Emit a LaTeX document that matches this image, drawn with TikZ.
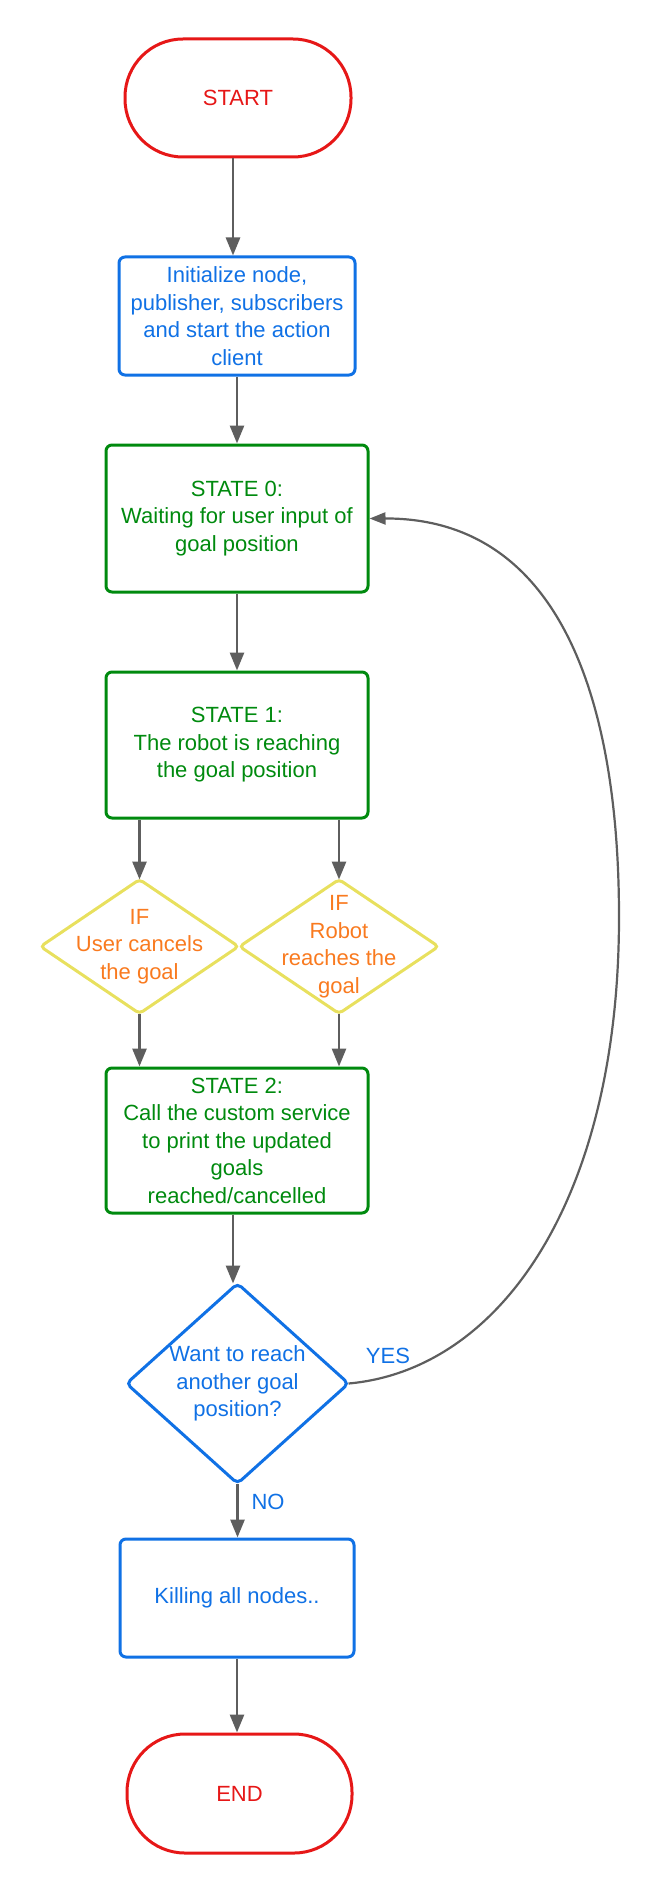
\documentclass[tikz,border=0pt]{standalone}
\usepackage{fontspec}
\setmainfont{Liberation Sans}
\usetikzlibrary{arrows.meta}
\definecolor{cred}{HTML}{E61717}
\definecolor{cblue}{HTML}{1071E5}
\definecolor{cgreen}{HTML}{008A0E}
\definecolor{cyellow}{HTML}{E8E05E}
\definecolor{corange}{HTML}{F97A1F}
\definecolor{cgray}{HTML}{5E5E5E}
\tikzset{
  base/.style={font=\fontsize{22}{27.5}\selectfont, align=center, line width=3pt, inner sep=0pt},
  term/.style={base, draw=cred, text=cred, rounded corners=58pt},
  bluebox/.style={base, draw=cblue, text=cblue, rounded corners=6pt},
  greenbox/.style={base, draw=cgreen, text=cgreen, rounded corners=6pt},
  cond/.style={base, text=corange},
  decide/.style={base, text=cblue},
  condline/.style={draw=cyellow, line width=3pt, rounded corners=4pt},
  decideline/.style={draw=cblue, line width=3pt, rounded corners=5pt},
  arr/.style={draw=cgray, line width=2.8pt, -{Triangle[length=18pt,width=14pt]}},
  looparr/.style={draw=cgray, line width=2.2pt, -{Triangle[length=16pt,width=12pt]}},
  lbl/.style={font=\fontsize{22}{27.5}\selectfont, text=cblue, inner sep=0pt}
}
\begin{document}
\begin{tikzpicture}[x=1pt,y=-1pt]
\useasboundingbox (0,0) rectangle (659,1894);
\node[term, minimum width=226pt, minimum height=118pt] (start) at (238,98) {START};
\node[bluebox, minimum width=236pt, minimum height=118pt] (init) at (237,316)
  {Initialize node,\\publisher, subscribers\\and start the action\\client};
\node[greenbox, minimum width=262pt, minimum height=147pt] (s0) at (237,518.5)
  {STATE 0:\\Waiting for user input of\\goal position};
\node[greenbox, minimum width=262pt, minimum height=146pt] (s1) at (237,745)
  {STATE 1:\\The robot is reaching\\the goal position};
\node[cond, minimum width=195pt, minimum height=131pt] (dL) at (139.5,946.5)
  {IF\\User cancels\\the goal};
\node[cond, minimum width=196pt, minimum height=131pt] (dR) at (339,946.5)
  {IF\\Robot\\reaches the\\goal};
\draw[condline] (dL.north) -- (dL.east) -- (dL.south) -- (dL.west) -- cycle;
\draw[condline] (dR.north) -- (dR.east) -- (dR.south) -- (dR.west) -- cycle;
\node[greenbox, minimum width=262pt, minimum height=145pt] (s2) at (237,1140.5)
  {STATE 2:\\Call the custom service\\to print the updated\\goals\\reached/cancelled};
\node[decide, minimum width=219pt, minimum height=197pt] (dec) at (237.5,1383.5)
  {Want to reach\\another goal\\position?};
\draw[decideline] (dec.north) -- (dec.east) -- (dec.south) -- (dec.west) -- cycle;
\node[bluebox, minimum width=234pt, minimum height=118pt] (kill) at (237,1598)
  {Killing all nodes..};
\node[term, minimum width=225pt, minimum height=119pt] (end) at (239.5,1793.5) {END};

\draw[arr] ([xshift=-5pt]start.south) -- ([xshift=-5pt]start.south |- init.north);
\draw[arr] (init.south) -- (init.south |- s0.north);
\draw[arr] (s0.south) -- (s1.north);
\draw[arr] (s1.south -| dL.north) -- (dL.north);
\draw[arr] (s1.south -| dR.north) -- (dR.north);
\draw[arr] (dL.south) -- (dL.south |- s2.north);
\draw[arr] (dR.south) -- (dR.south |- s2.north);
\draw[arr] ([xshift=-4pt]s2.south) -- ([xshift=-4pt]s2.south |- dec.north);
\draw[arr] (dec.south) -- (dec.south |- kill.north);
\draw[arr] (kill.south) -- (kill.south |- end.north);
\draw[looparr] (dec.east) .. controls (500,1370) and (619,1200) .. (619,917)
  .. controls (619,700) and (560,518) .. (s0.east);
\node[lbl] (yes) at (388,1356) {YES};
\node[lbl] (no) at (268,1502) {NO};
\end{tikzpicture}
\end{document}
